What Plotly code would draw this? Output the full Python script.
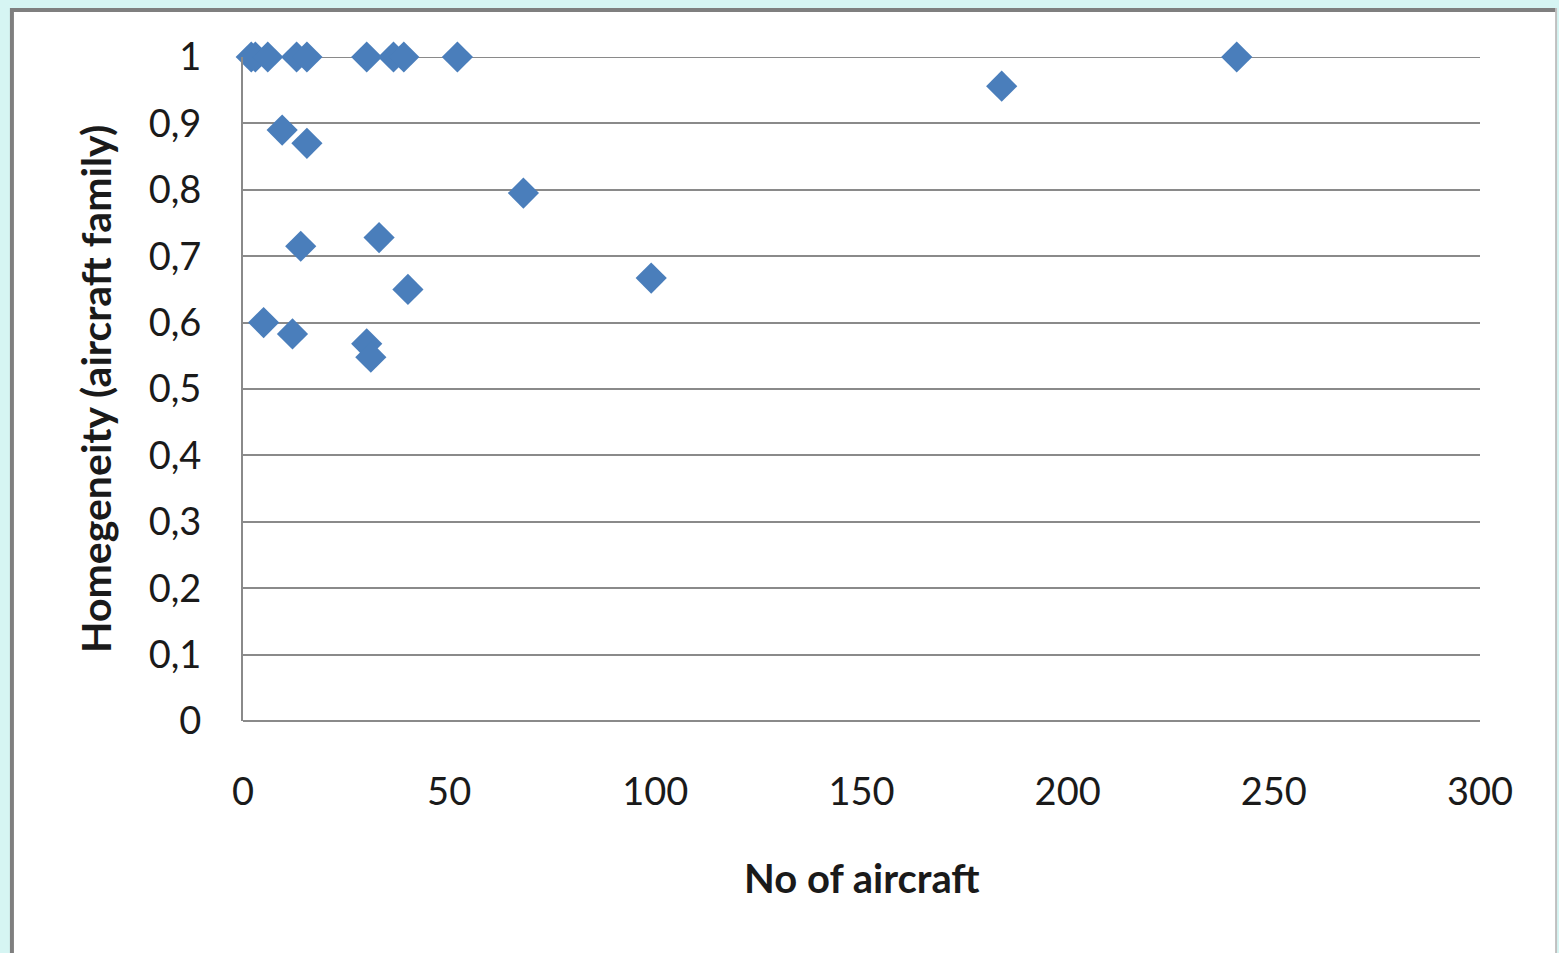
import plotly.graph_objects as go

# Fleet size vs. homogeneity of aircraft family
no_of_aircraft = [2, 3, 6, 13, 15.5, 30, 36.5, 39, 52, 241,
                  9.5, 15.5, 68, 14, 33, 40, 99, 5, 12, 30, 31, 184]
homogeneity = [1, 1, 1, 1, 1, 1, 1, 1, 1, 1,
               0.89, 0.87, 0.795, 0.715, 0.728, 0.65, 0.667, 0.60, 0.583, 0.568, 0.548, 0.956]

y_tick_vals = [0, 0.1, 0.2, 0.3, 0.4, 0.5, 0.6, 0.7, 0.8, 0.9, 1]
y_tick_text = ["0", "0,1", "0,2", "0,3", "0,4", "0,5", "0,6", "0,7", "0,8", "0,9", "1"]
x_tick_vals = [0, 50, 100, 150, 200, 250, 300]

FONT = "Lato, Carlito, Calibri, sans-serif"
GRID = "#8a8a8a"

fig = go.Figure(
    go.Scatter(
        x=no_of_aircraft,
        y=homogeneity,
        mode="markers",
        marker=dict(symbol="diamond", size=24, color="#4a7ebb", line=dict(width=0)),
        cliponaxis=False,
        showlegend=False,
    )
)

fig.update_layout(
    width=1559,
    height=953,
    margin=dict(l=243, r=79, t=57, b=232),
    paper_bgcolor="#d6f5f3",
    plot_bgcolor="rgba(0,0,0,0)",
    font=dict(family=FONT, size=38, color="#1a1a1a"),
    xaxis=dict(
        range=[0, 300],
        tickvals=x_tick_vals,
        showgrid=False,
        zeroline=False,
        showline=False,
        ticks="",
        ticklabelstandoff=45,
        tickfont=dict(size=38),
        fixedrange=True,
    ),
    yaxis=dict(
        range=[0, 1],
        tickvals=y_tick_vals,
        ticktext=y_tick_text,
        showgrid=True,
        gridcolor=GRID,
        gridwidth=2,
        zeroline=True,
        zerolinecolor=GRID,
        zerolinewidth=2,
        showline=True,
        linecolor=GRID,
        linewidth=2,
        ticks="",
        ticklabelstandoff=32,
        tickfont=dict(size=38),
        fixedrange=True,
    ),
    shapes=[
        # white chart panel
        dict(type="rect", xref="paper", yref="paper", x0=-0.18836, x1=1.06225,
             y0=-0.40, y1=1.0738, fillcolor="white", line=dict(width=0), layer="below"),
        # panel border: darker left/top, lighter right
        dict(type="line", xref="paper", yref="paper", x0=-0.1868, x1=-0.1868,
             y0=-0.40, y1=1.0738, line=dict(color="#7f7f7f", width=4), layer="below"),
        dict(type="line", xref="paper", yref="paper", x0=-0.18836, x1=1.06225,
             y0=1.0708, y1=1.0708, line=dict(color="#7f7f7f", width=4), layer="below"),
        dict(type="line", xref="paper", yref="paper", x0=1.0615, x1=1.0615,
             y0=-0.40, y1=1.0738, line=dict(color="#c0c0c0", width=2), layer="below"),
        # top gridline at the axis maximum
        dict(type="line", xref="paper", yref="y", x0=0, x1=1,
             y0=y_tick_vals[-1], y1=y_tick_vals[-1],
             line=dict(color=GRID, width=2), layer="below"),
    ],
    annotations=[
        dict(text="<b>No of aircraft</b>", xref="paper", yref="paper", x=0.5, y=-0.2364,
             showarrow=False, xanchor="center", yanchor="middle",
             font=dict(family=FONT, size=40, color="#1a1a1a")),
        dict(text="<b>Homegeneity (aircraft family)</b>", xref="paper", yref="paper",
             x=-0.1196, y=0.5, textangle=-90, showarrow=False,
             xanchor="center", yanchor="middle",
             font=dict(family=FONT, size=41, color="#1a1a1a")),
    ],
)

fig.write_html("out.html")
